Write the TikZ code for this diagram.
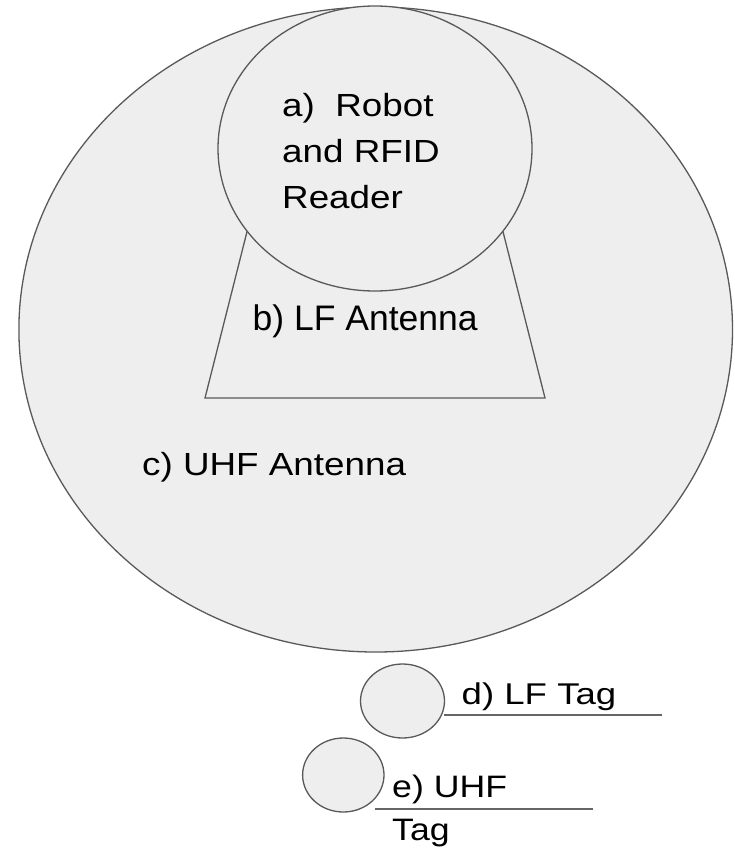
\documentclass[tikz,border=0pt]{standalone}
\usepackage{fontspec}
\setmainfont{Liberation Sans}
\newfontfamily\widesans{Liberation Sans}[FakeStretch=1.15]
\newfontfamily\widersans{Liberation Sans}[FakeStretch=1.22]
\usetikzlibrary{shapes.geometric}
\definecolor{shapefill}{HTML}{EEEEEE}
\definecolor{shapeline}{HTML}{595959}
\definecolor{ruleline}{HTML}{666666}
\tikzset{
  blob/.style={ellipse, draw=shapeline, fill=shapefill, line width=1.3pt, inner sep=0pt},
  panel/.style={draw=shapeline, fill=shapefill, line width=1.3pt, line join=miter},
  caption/.style={inner sep=0pt, anchor=base west, text=black},
  underline/.style={draw=ruleline, line width=1.2pt}
}
\begin{document}
\begin{tikzpicture}[x=1pt,y=1pt]
  % canvas
  \path[fill=white, use as bounding box] (0,0) rectangle (734,-850);

  % c) UHF antenna range
  \node[blob, minimum width=713.6pt, minimum height=645pt] (uhf) at (375.7,-329.5) {};

  % b) LF antenna field (top edge hidden under the reader)
  \coordinate (lfBL) at (205,-398);
  \coordinate (lfBR) at (545,-398);
  \coordinate (lfTR) at (495,-200);
  \coordinate (lfTL) at (255,-200);
  \path[panel] (lfBL) -- (lfBR) -- (lfTR) -- (lfTL) -- cycle;

  % a) robot and reader
  \node[blob, minimum width=314pt, minimum height=285pt] (reader) at (375,-148.5) {};

  % tags
  \node[blob, minimum width=84pt, minimum height=74pt] (lftag) at (402.5,-701) {};
  \node[blob, minimum width=81.4pt, minimum height=74pt] (uhftag) at (343.3,-775) {};

  % labels
  \node[caption, font=\widesans\fontsize{32}{46}\selectfont] (lblA) at (282,-116.7)
    {\begin{tabular}[t]{@{}l@{}}a)\ \ Robot\\and RFID\\Reader\end{tabular}};
  \node[caption, font=\fontsize{35.5}{42}\selectfont] (lblB) at (252.5,-330.7) {b) LF Antenna};
  \node[caption, font=\widesans\fontsize{32}{42}\selectfont] (lblC) at (142,-475) {c) UHF Antenna};
  \node[caption, font=\widersans\fontsize{30}{42}\selectfont] (lblD) at (461.5,-704.5) {d) LF Tag};
  \node[caption, font=\widesans\fontsize{31}{43}\selectfont] (lblE) at (392,-797.3)
    {\begin{tabular}[t]{@{}l@{}}e) UHF\\Tag\end{tabular}};

  % text-box rules beside the tags
  \coordinate (ruleDa) at (444,-715);
  \coordinate (ruleDb) at (662,-715);
  \coordinate (ruleEa) at (375,-809);
  \coordinate (ruleEb) at (593,-809);
  \draw[underline] (ruleDa) -- (ruleDb);
  \draw[underline] (ruleEa) -- (ruleEb);
\end{tikzpicture}
\end{document}
